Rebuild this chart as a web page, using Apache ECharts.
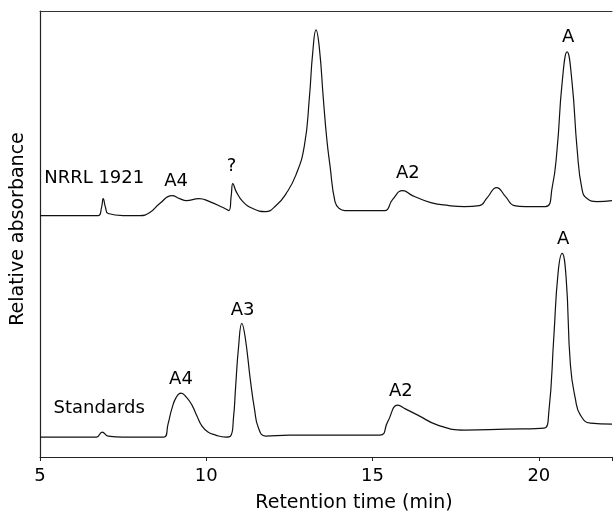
<!DOCTYPE html>
<html>
<head>
<meta charset="utf-8">
<script src="https://cdn.jsdelivr.net/npm/echarts@6/dist/echarts.min.js"></script>
<style>
  html, body { margin: 0; padding: 0; background: #fff; }
  #container { width: 615px; height: 518px; }
</style>
</head>
<body>
<div id="container"></div>
<script>
var timeNrrl = [5.0, 6.75, 6.85, 6.9, 6.97, 7.05, 7.5, 8.0, 8.3, 8.6, 8.97, 9.2, 9.4, 9.78, 10.1, 10.5, 10.68,
    10.75, 10.8, 10.9, 11.1, 11.4, 11.78, 12.1, 12.4, 12.7, 12.95, 13.1, 13.2, 13.3, 13.4, 13.52, 13.62,
    13.72, 13.87, 14.0, 14.17, 15.0, 15.37, 15.6, 15.91, 16.2, 16.75, 17.3, 17.76, 18.21, 18.45, 18.73,
    19.0, 19.26, 19.6, 20.2, 20.4, 20.55, 20.7, 20.85, 21.0, 21.15, 21.3, 21.45, 21.75, 22.2];
var nrrl = [242, 242, 250, 259, 250, 244, 242, 242, 245, 254, 262, 259, 257, 259, 256, 250, 247,
    262, 274, 266, 256, 249, 246, 252, 264, 283, 312, 360, 405, 428, 410, 359, 320,
    292, 256, 249, 247, 247, 247, 258, 267, 262, 255, 252, 251, 252, 260, 270,
    261, 252, 251, 251, 270, 309, 375, 406, 375, 309, 268, 259, 256, 257];

var timeStd = [5.0, 6.7, 6.87, 7.05, 7.5, 8.73, 8.85, 8.97, 9.1, 9.24, 9.4, 9.57, 9.72, 9.87, 10.05, 10.28,
    10.58, 10.73, 10.82, 10.88, 10.97, 11.07, 11.17, 11.33, 11.45, 11.57, 11.78, 12.5, 15.22, 15.45,
    15.76, 16.0, 16.36, 16.96, 17.77, 19.0, 20.16, 20.3, 20.45, 20.58, 20.7, 20.82, 20.95, 21.1, 21.25,
    21.55, 22.2];
var standards = [20, 20, 25, 21, 20, 20, 33, 49, 60, 64, 60, 52, 41, 31, 25, 22,
    20, 21, 40, 69, 110, 134, 120, 76, 48, 29, 21, 22, 22, 35,
    52, 48, 42, 32, 27, 28, 29, 45, 120, 185, 204, 180, 92, 58, 42,
    34, 33];

// Etiquetas de los picos
var peakNames = ['NRRL 1921', 'A4', '?', 'A2', 'A', 'Standards', 'A4', 'A3', 'A2', 'A'];
var peakTimes = [6.63, 9.09, 10.76, 16.06, 20.88, 6.78, 9.24, 11.09, 15.85, 20.73];
var peakHeights = [279, 276, 291, 284, 421, 49, 78, 147, 66, 218];

var xTicks = [5, 10, 15, 20];
var xMin = 5, xMax = 22.2;

document.addEventListener('DOMContentLoaded', function () {
    var dom = document.getElementById('container');
    var myChart = echarts.init(dom);

    function pairs(xs, ys) {
        return xs.map(function (x, i) { return [x, ys[i]]; });
    }

    var labelData = peakNames.map(function (n, i) {
        return { name: n, value: [peakTimes[i], peakHeights[i]] };
    });

    var lineStyle = { color: '#111', width: 1.2 };
    var font = 'DejaVu Sans';

    var option = {
        animation: false,
        backgroundColor: '#fff',
        grid: { left: 40, right: 0, top: 11, bottom: 60 },
        xAxis: [
            {
                type: 'value',
                min: xMin,
                max: xMax,
                interval: 5,
                name: 'Retention time (min)',
                nameLocation: 'middle',
                nameGap: 37,
                nameTextStyle: { fontFamily: font, fontSize: 19, color: '#000', padding: [0, 0, 0, 56] },
                axisLine: { show: true, onZero: false, lineStyle: { color: '#222', width: 1.2 } },
                axisTick: { show: true, length: 4, lineStyle: { color: '#222' } },
                axisLabel: {
                    fontFamily: font, fontSize: 18, color: '#000', margin: 10,
                    formatter: function (v) { return xTicks.indexOf(v) >= 0 ? String(v) : ''; }
                },
                splitLine: { show: false }
            },
            {
                // línea superior del marco
                type: 'value',
                position: 'top',
                min: xMin,
                max: xMax,
                axisLine: { show: true, onZero: false, lineStyle: { color: '#333', width: 1 } },
                axisTick: { show: false },
                axisLabel: { show: false },
                splitLine: { show: false }
            }
        ],
        yAxis: {
            type: 'value',
            min: 0,
            max: 447,
            name: 'Relative absorbance',
            nameLocation: 'middle',
            nameGap: 12,
            nameTextStyle: { fontFamily: font, fontSize: 19, color: '#000', padding: [0, 0, 0, 10] },
            axisLine: { show: true, lineStyle: { color: '#222', width: 1.2 } },
            axisTick: { show: false },
            axisLabel: { show: false },
            splitLine: { show: false }
        },
        series: [
            {
                name: 'NRRL 1921',
                type: 'line',
                data: pairs(timeNrrl, nrrl),
                showSymbol: false,
                smooth: 0.5,
                lineStyle: lineStyle
            },
            {
                name: 'Standards',
                type: 'line',
                data: pairs(timeStd, standards),
                showSymbol: false,
                smooth: 0.5,
                lineStyle: lineStyle
            },
            {
                name: 'labels',
                type: 'scatter',
                xAxisIndex: 1,
                data: labelData,
                symbolSize: 0,
                itemStyle: { opacity: 1 },
                label: {
                    show: true,
                    position: 'inside',
                    formatter: '{b}',
                    fontFamily: font,
                    fontSize: 18,
                    color: '#000'
                }
            }
        ]
    };

    myChart.setOption(option);
    window.addEventListener('resize', myChart.resize);
});
</script>
</body>
</html>
